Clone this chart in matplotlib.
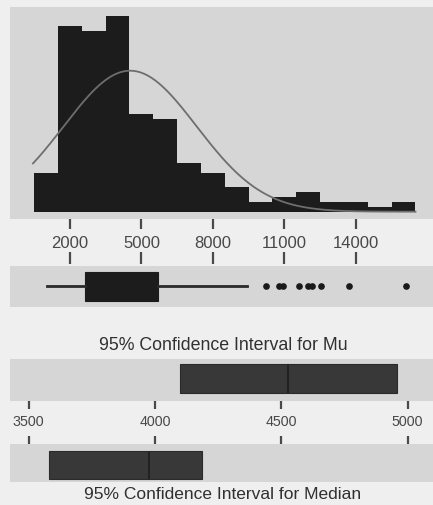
import numpy as np
import matplotlib
matplotlib.use("Agg")
import matplotlib.pyplot as plt

plt.rcParams['font.family'] = ['Liberation Sans', 'DejaVu Sans']

# ---------------- data ----------------
bin_edges = [500, 1500, 2500, 3500, 4500, 5500, 6500, 7500, 8500,
             9500, 10500, 11500, 12500, 13500, 14500, 15500, 16500]
counts = [8, 38, 37, 40, 20, 19, 10, 8, 5, 2, 3, 4, 2, 2, 1, 2]

fit_mean = 4528
fit_std = 2785
n_obs = 201
bin_width = 1000

hist_ticks = [2000, 5000, 8000, 11000, 14000]

box_q1 = 2630
box_median = 3976
box_q3 = 5683
box_whislo = 1021
box_whishi = 9420
outliers = [10216, 10786, 10954, 11613, 12003, 12146, 12536, 13724, 16090]

mu_ci = [4099, 4957]
mu_hat = 4528
median_ci = [3582, 4185]
median_hat = 3976
ci_ticks = [3500, 4000, 4500, 5000]

title_mu = "95% Confidence Interval for Mu"
title_median = "95% Confidence Interval for Median"

# ---------------- style ----------------
W, H = 433, 506
BG = '#efefef'
PANEL = '#d6d6d6'
BAR = '#1c1c1c'
CI_BOX = '#383838'
TXT = '#303030'
TICK = '#4a4a4a'

fig = plt.figure(figsize=(W / 100, H / 100), dpi=100, facecolor=BG)


def add_ax(top, bottom, left=10, right=433, panel=True):
    ax = fig.add_axes([left / W, 1 - bottom / H, (right - left) / W, (bottom - top) / H])
    ax.set_facecolor(PANEL if panel else 'none')
    for s in ax.spines.values():
        s.set_visible(False)
    ax.set_xticks([])
    ax.set_yticks([])
    return ax


# x scales (pixel -> data)
hist_xlim = (2000 + (10 - 69.9) * 41.96, 2000 + (433 - 69.9) * 41.96)
ci_xlim = (3500 + (10 - 28.65) * 3.958, 3500 + (433 - 28.65) * 3.958)

# ---------------- histogram ----------------
ax_h = add_ax(8, 220)
ax_h.stairs(counts, bin_edges, fill=True, color=BAR, linewidth=0)
xs = np.linspace(450, bin_edges[-1], 300)
ys = n_obs * bin_width / (fit_std * np.sqrt(2 * np.pi)) * np.exp(-0.5 * ((xs - fit_mean) / fit_std) ** 2)
ax_h.plot(xs, ys, color='#6e6e6e', lw=1.3)
ax_h.set_xlim(*hist_xlim)
ax_h.set_ylim(-1.49, 41.8)

# tick band between histogram and boxplot
ax_t1 = add_ax(220, 267, panel=False)
ax_t1.set_xlim(*hist_xlim)
ax_t1.set_ylim(47, 0)
ax_t1.vlines(hist_ticks, 0, 10, color=TICK, lw=1.6)
ax_t1.vlines(hist_ticks, 33, 45, color=TICK, lw=1.6)
for t in hist_ticks:
    ax_t1.text(t, 23.5, f"{t}", ha='center', va='center', fontsize=12, color='#484848')

# ---------------- boxplot ----------------
ax_b = add_ax(267, 308)
stats = [dict(med=box_median, q1=box_q1, q3=box_q3, whislo=box_whislo,
              whishi=box_whishi, fliers=outliers)]
bkw = dict(positions=[20.2], widths=[29], patch_artist=True, showcaps=False,
           boxprops=dict(facecolor=BAR, edgecolor=BAR, lw=0.8),
           medianprops=dict(color=BAR, lw=1),
           whiskerprops=dict(color='#2a2a2a', lw=2.0),
           flierprops=dict(marker='o', markersize=3.8, markerfacecolor='#1a1a1a',
                           markeredgecolor='#1a1a1a'))
try:
    ax_b.bxp(stats, orientation='horizontal', **bkw)
except TypeError:
    ax_b.bxp(stats, vert=False, **bkw)
ax_b.set_xlim(*hist_xlim)
ax_b.set_ylim(41, 0)
ax_b.set_xticks([])
ax_b.set_yticks([])

fig.text(223 / W, 1 - 346 / H, title_mu, ha='center', va='center', fontsize=12.8, color=TXT)

# ---------------- CI for Mu ----------------
ax_mu = add_ax(360, 402)
ax_mu.barh([19.5], [mu_ci[1] - mu_ci[0]], left=[mu_ci[0]], height=29,
           color=CI_BOX, edgecolor='#2a2a2a', lw=0.8)
ax_mu.vlines([mu_hat], 19.5 - 14.5, 19.5 + 14.5, color='#222222', lw=1.4)
ax_mu.set_xlim(*ci_xlim)
ax_mu.set_ylim(42, 0)

# tick band
ax_t2 = add_ax(402, 445, panel=False)
ax_t2.set_xlim(*ci_xlim)
ax_t2.set_ylim(43, 0)
ax_t2.vlines(ci_ticks, -2, 8, color=TICK, lw=1.6)
ax_t2.vlines(ci_ticks, 35, 43, color=TICK, lw=1.6)
for t in ci_ticks:
    ax_t2.text(t, 20, f"{t}", ha='center', va='center', fontsize=10.3, color='#484848')

# ---------------- CI for Median ----------------
ax_md = add_ax(445, 483)
ax_md.barh([20.9], [median_ci[1] - median_ci[0]], left=[median_ci[0]], height=28.3,
           color=CI_BOX, edgecolor='#2a2a2a', lw=0.8)
ax_md.vlines([median_hat], 20.9 - 14.15, 20.9 + 14.15, color='#222222', lw=1.4)
ax_md.set_xlim(*ci_xlim)
ax_md.set_ylim(38, 0)

fig.text(223 / W, 1 - 495 / H, title_median, ha='center', va='center', fontsize=12.5, color=TXT)

fig.savefig("out.png", dpi=100, facecolor=BG)
